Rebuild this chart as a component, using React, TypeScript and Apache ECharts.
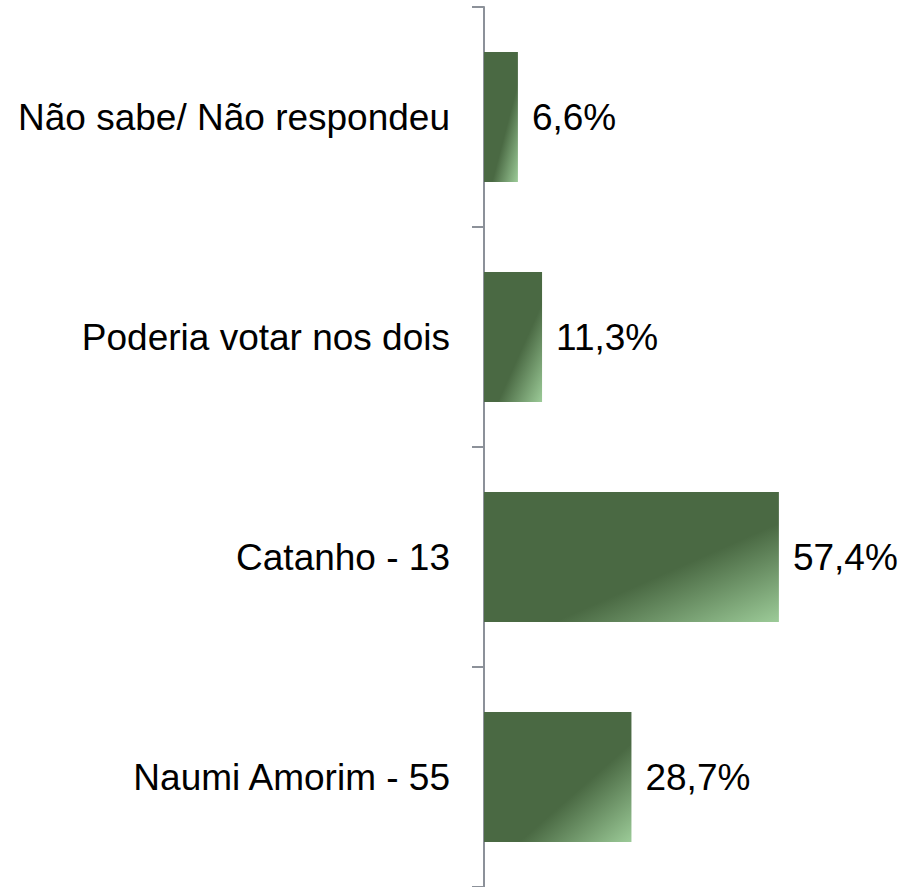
import React, { useEffect, useRef } from "react";
import * as echarts from "echarts";

const categories = [
  "Não sabe/ Não respondeu",
  "Poderia votar nos dois",
  "Catanho - 13",
  "Naumi Amorim - 55",
];
const values = [6.6, 11.3, 57.4, 28.7];

const fmt = (v: number) => v.toFixed(1).replace(".", ",") + "%";

export default function App() {
  const ref = useRef<HTMLDivElement>(null);
  useEffect(() => {
    document.body.style.margin = "0";
    const chart = echarts.init(ref.current!, null, { renderer: "svg" });
    const font = "'Liberation Sans', Arial, sans-serif";
    chart.setOption({
      animation: false,
      grid: { left: 484, right: 8, top: 7, bottom: -5, containLabel: false },
      xAxis: { type: "value", min: 0, max: 80, show: false },
      yAxis: {
        type: "category",
        data: categories,
        inverse: true,
        offset: 1,
        axisLine: { show: true, lineStyle: { color: "#8c9199", width: 2 } },
        axisTick: { show: true, length: 12, lineStyle: { color: "#8c9199", width: 2 } },
        axisLabel: { margin: 33, color: "#000", fontSize: 37, fontFamily: font },
        splitLine: { show: false },
      },
      series: [
        {
          type: "bar",
          data: values,
          barCategoryGap: "41%",
          itemStyle: {
            color: new echarts.graphic.LinearGradient(0, 0, 1, 1, [
              { offset: 0, color: "#4a6943" },
              { offset: 0.62, color: "#4a6943" },
              { offset: 1, color: "#9ccb98" },
            ]),
          },
          label: {
            show: true,
            position: "right",
            distance: 14,
            color: "#000",
            fontSize: 37,
            fontFamily: font,
            formatter: (p: any) => fmt(p.value),
          },
        },
      ],
    });
    return () => chart.dispose();
  }, []);
  return <div ref={ref} style={{ width: 903, height: 887 }} />;
}
